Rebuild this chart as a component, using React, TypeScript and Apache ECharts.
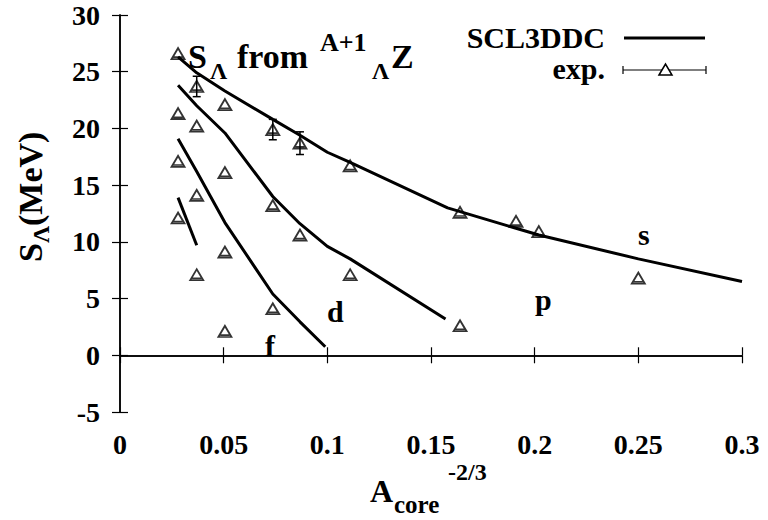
import React, { useEffect, useRef } from "react";
import * as echarts from "echarts";

const FONT = "'Liberation Serif', 'Times New Roman', Times, serif";

// SCL3DDC theoretical curves (x = A_core^-2/3, y = S_Lambda in MeV)
const sX = [0.028, 0.037, 0.0506, 0.0737, 0.0868, 0.1, 0.111, 0.158, 0.191, 0.202, 0.25, 0.3];
const sY = [26.3, 24.9, 23.3, 20.8, 19.4, 17.9, 17.0, 13.0, 11.2, 10.6, 8.5, 6.5];
const pX = [0.028, 0.037, 0.0506, 0.0737, 0.0868, 0.1, 0.111, 0.157];
const pY = [23.8, 22.0, 19.6, 14.0, 11.6, 9.6, 8.5, 3.2];
const dX = [0.028, 0.037, 0.0506, 0.0737, 0.0868, 0.099];
const dY = [19.1, 16.2, 11.7, 5.4, 2.95, 0.75];
const fX = [0.028, 0.037];
const fY = [13.9, 9.7];

// experimental values
const expX = [
  0.028, 0.037, 0.0506, 0.0737, 0.0868, 0.111, 0.164, 0.191, 0.202, 0.25,
  0.028, 0.037, 0.0506, 0.0737, 0.0868, 0.111, 0.164,
  0.028, 0.037, 0.0506, 0.0737,
  0.028, 0.037, 0.0506,
];
const expY = [
  26.6, 23.7, 22.1, 19.9, 18.7, 16.7, 12.6, 11.8, 10.9, 6.8,
  21.3, 20.2, 16.1, 13.2, 10.6, 7.1, 2.6,
  17.1, 14.1, 9.1, 4.1,
  12.1, 7.1, 2.1,
];
const expErr = [
  0, 0.9, 0, 0.9, 1.0, 0, 0, 0, 0, 0,
  0, 0, 0, 0, 0, 0, 0,
  0, 0, 0, 0,
  0, 0, 0,
];

const xMin = 0;
const xMax = 0.3;
const xStep = 0.05;
const yMin = -5;
const yMax = 30;
const yStep = 5;

const shellLabels = ["s", "p", "d", "f"];

const TRI = "path://M0,10 L6,0 L12,10 Z M1.8,8.3 L10.2,8.3";

function pairs(xs: number[], ys: number[]) {
  return xs.map((x, i) => [x, ys[i]]);
}

function txt(text: string, x: number, baseline: number, size: number, align = "left") {
  return {
    type: "text",
    x,
    y: baseline - 0.34 * size,
    style: {
      text,
      font: `bold ${size}px ${FONT}`,
      fill: "#000",
      textAlign: align,
      textVerticalAlign: "middle",
    },
  };
}

export default function App() {
  const ref = useRef<HTMLDivElement>(null);
  useEffect(() => {
    document.body.style.margin = "0";
    const chart = echarts.init(ref.current!, null, { renderer: "svg" });
    const axisLine = { show: true, lineStyle: { color: "#000", width: 1.5 } };
    const axisTick = { show: true, inside: true, length: 8, lineStyle: { color: "#000", width: 1.2 } };
    const labelStyle = { color: "#000", fontFamily: FONT, fontWeight: "bold", fontSize: 28 };
    const lineSeries = (name: string, xs: number[], ys: number[]) => ({
      type: "line",
      name,
      data: pairs(xs, ys),
      symbol: "none",
      lineStyle: { color: "#000", width: 3 },
      z: 2,
    });
    const expData = expX.map((x, i) => [x, expY[i], expErr[i]]);
    chart.setOption({
      animation: false,
      backgroundColor: "#fff",
      textStyle: { fontFamily: FONT },
      grid: { left: 120, right: 26, top: 15, bottom: 108 },
      xAxis: [
        {
          type: "value", min: xMin, max: xMax, interval: xStep, position: "bottom",
          axisLine, axisTick, splitLine: { show: false },
          axisLabel: { ...labelStyle, margin: 18 },
        },
        {
          type: "value", min: xMin, max: xMax, interval: xStep, position: "top",
          axisLine, axisTick, splitLine: { show: false }, axisLabel: { show: false },
        },
      ],
      yAxis: [
        {
          type: "value", min: yMin, max: yMax, interval: yStep, position: "left",
          axisLine, axisTick, splitLine: { show: false },
          axisLabel: { ...labelStyle, margin: 20 },
        },
        {
          type: "value", min: yMin, max: yMax, interval: yStep, position: "right",
          axisLine, axisTick, splitLine: { show: false }, axisLabel: { show: false },
        },
      ],
      series: [
        lineSeries("SCL3DDC s", sX, sY),
        lineSeries("SCL3DDC p", pX, pY),
        lineSeries("SCL3DDC d", dX, dY),
        lineSeries("SCL3DDC f", fX, fY),
        {
          type: "scatter",
          name: "exp.",
          data: expData.map((d) => [d[0], d[1]]),
          symbol: TRI,
          symbolSize: [13, 11],
          itemStyle: { color: "rgba(0,0,0,0)", borderColor: "#000", borderWidth: 1.8 },
          z: 3,
        },
        {
          type: "custom",
          name: "exp. error",
          data: expData.filter((d) => d[2] > 0),
          renderItem: (params: any, api: any) => {
            const x = api.value(0);
            const y = api.value(1);
            const e = api.value(2);
            const top = api.coord([x, y + e]);
            const bot = api.coord([x, y - e]);
            const w = 4;
            const st = { stroke: "#000", lineWidth: 1.5 };
            return {
              type: "group",
              children: [
                { type: "line", shape: { x1: top[0], y1: top[1], x2: bot[0], y2: bot[1] }, style: st },
                { type: "line", shape: { x1: top[0] - w, y1: top[1], x2: top[0] + w, y2: top[1] }, style: st },
                { type: "line", shape: { x1: bot[0] - w, y1: bot[1], x2: bot[0] + w, y2: bot[1] }, style: st },
              ],
            };
          },
          z: 4,
        },
      ],
      graphic: [
        // shell labels
        txt(shellLabels[0], 638, 245, 30),
        txt(shellLabels[1], 535, 310, 30),
        txt(shellLabels[2], 327, 322, 30),
        txt(shellLabels[3], 265, 356, 30),
        // annotation S_Λ from ^{A+1}_Λ Z
        txt("S", 188, 68, 34),
        txt("Λ", 210, 79, 24),
        txt("from", 237, 68, 34),
        txt("A+1", 320, 51, 26),
        txt("Λ", 372, 79, 24),
        txt("Z", 391, 68, 34),
        // legend
        txt("SCL3DDC", 605, 48, 30, "right"),
        { type: "line", shape: { x1: 624, y1: 38, x2: 705, y2: 38 }, style: { stroke: "#000", lineWidth: 3 } },
        txt("exp.", 605, 79, 30, "right"),
        { type: "line", shape: { x1: 623, y1: 70, x2: 706, y2: 70 }, style: { stroke: "#000", lineWidth: 1.2 } },
        { type: "line", shape: { x1: 623, y1: 66, x2: 623, y2: 74 }, style: { stroke: "#000", lineWidth: 1.2 } },
        { type: "line", shape: { x1: 706, y1: 66, x2: 706, y2: 74 }, style: { stroke: "#000", lineWidth: 1.2 } },
        {
          type: "polygon",
          shape: { points: [[659, 75], [665.5, 64], [672, 75]] },
          style: { fill: "#fff", stroke: "#000", lineWidth: 1.5 },
        },
        // x axis title
        txt("A", 370, 502, 32),
        txt("core", 394, 513, 25),
        txt("-2/3", 448, 480, 24),
        // y axis title
        {
          type: "group",
          x: 42,
          y: 262,
          rotation: Math.PI / 2,
          children: [
            txt("S", 0, 0, 34),
            txt("Λ", 19, 7, 24),
            txt("(MeV)", 36, 0, 34),
          ],
        },
      ],
    });
    return () => chart.dispose();
  }, []);
  return <div ref={ref} style={{ width: 768, height: 520 }} />;
}
